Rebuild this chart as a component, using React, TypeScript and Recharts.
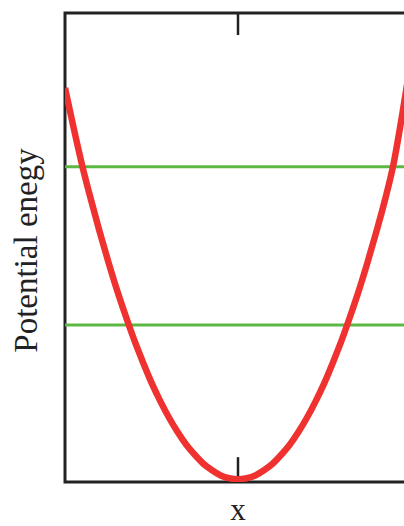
import { Label, Line, LineChart, ReferenceArea, ReferenceLine, XAxis, YAxis } from "recharts";

// position along x, from left wall (-1) to right wall (1)
const positions = [
  -1, -0.95, -0.9, -0.85, -0.8, -0.75, -0.7, -0.65, -0.6, -0.55, -0.5, -0.45, -0.4, -0.35, -0.3, -0.25, -0.2, -0.15,
  -0.1, -0.05, 0, 0.05, 0.1, 0.15, 0.2, 0.25, 0.3, 0.35, 0.4, 0.45, 0.5, 0.55, 0.6, 0.65, 0.7, 0.75, 0.8, 0.85, 0.9,
  0.95, 1,
];
const energy = [
  8.4, 7.55, 6.74, 6.02, 5.34, 4.7, 4.1, 3.55, 3.03, 2.56, 2.12, 1.73, 1.38, 1.07, 0.8, 0.58, 0.39, 0.25, 0.14, 0.08,
  0.06, 0.08, 0.14, 0.25, 0.39, 0.58, 0.8, 1.07, 1.38, 1.73, 2.12, 2.56, 3.03, 3.55, 4.1, 4.7, 5.34, 6.02, 6.8, 7.85,
  9.0,
];
const levels = [6.72, 3.35];
const centerTick = 0;

const data = positions.map((x, i) => ({ x, v: energy[i] }));

const FONT = "'Liberation Serif', 'Times New Roman', serif";
const INK = "#222";

export default function App() {
  return (
    <div
      style={{
        position: "fixed",
        left: 0,
        top: 0,
        width: 404,
        height: 526,
        overflow: "hidden",
        background: "#fff",
      }}
    >
      <LineChart width={420} height={526} data={data} margin={{ top: 13, right: 9, left: 0, bottom: 0 }}>
        <XAxis
          dataKey="x"
          type="number"
          domain={[-1, 1]}
          allowDataOverflow
          height={44}
          axisLine={false}
          tickLine={false}
          tick={false}
        >
          <Label
            content={({ viewBox }: any) => (
              <text
                x={viewBox.x + viewBox.width / 2}
                y={viewBox.y + 38}
                textAnchor="middle"
                fontFamily={FONT}
                fontSize={31}
                fill={INK}
              >
                x
              </text>
            )}
          />
        </XAxis>
        <YAxis
          type="number"
          domain={[0, 10]}
          allowDataOverflow
          width={65}
          axisLine={false}
          tickLine={false}
          tick={false}
        >
          <Label
            content={({ viewBox }: any) => {
              const cx = 37;
              const cy = viewBox.y + viewBox.height / 2 + 3;
              return (
                <text
                  x={cx}
                  y={cy}
                  transform={`rotate(-90 ${cx} ${cy})`}
                  textAnchor="middle"
                  fontFamily={FONT}
                  fontSize={33}
                  fill={INK}
                >
                  Potential enegy
                </text>
              );
            }}
          />
        </YAxis>
        <ReferenceArea x1={-1} x2={1} y1={0} y2={10} fill="none" stroke={INK} strokeWidth={3} />
        <ReferenceLine
          segment={[
            { x: centerTick, y: 10 },
            { x: centerTick, y: 9.53 },
          ]}
          stroke={INK}
          strokeWidth={2.5}
        />
        <ReferenceLine
          segment={[
            { x: centerTick, y: 0 },
            { x: centerTick, y: 0.53 },
          ]}
          stroke={INK}
          strokeWidth={2.5}
        />
        {levels.map((lv) => (
          <ReferenceLine key={lv} y={lv} stroke="#5cb843" strokeWidth={3} />
        ))}
        <Line
          dataKey="v"
          type="monotone"
          stroke="#ef3230"
          strokeWidth={6.5}
          dot={false}
          isAnimationActive={false}
        />
      </LineChart>
    </div>
  );
}
